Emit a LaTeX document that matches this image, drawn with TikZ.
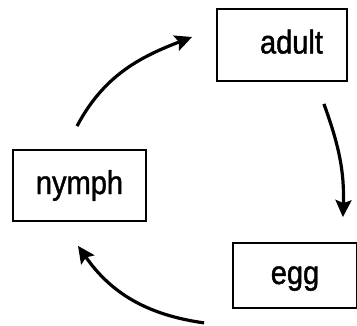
\documentclass[tikz,border=0pt]{standalone}
\usepackage{fontspec}
\setmainfont{Liberation Sans}[FakeStretch=0.88, FakeBold=1.2]
\usetikzlibrary{arrows.meta}

\begin{document}
\begin{tikzpicture}[x = 1pt, y = 1pt,
    stage/.style = {draw, line width = 1.8pt, inner sep = 0pt,
      font = \fontsize{33}{36}\selectfont,
      text height = 24pt, text depth = 7pt},
    cycarrow/.style = {line width = 3.2pt,
      -{Stealth[length = 17pt, width = 16pt, inset = 3pt]}}]
    \useasboundingbox (0,0) rectangle (357,325);
    % the three stages
    \node [stage, minimum width = 130pt, minimum height = 72pt]
    (adult) at (282,280) {\hspace{19pt}adult};
    \node [stage, minimum width = 133pt, minimum height = 71pt]
    (nymph) at (79.5,139.5) {nymph};
    \node [stage, minimum width = 124pt, minimum height = 65pt]
    (egg) at (295,49.5) {egg};
    % the cycle
    \draw [cycarrow] ([shift = {(-2.5pt,23pt)}]nymph.north)
    to [out = 62, in = 201] ([shift = {(-24pt,8pt)}]adult.west);
    \draw [cycarrow] ([shift = {(-24pt,-22pt)}]adult.south east)
    to [out = -70, in = 88] ([shift = {(-15pt,25pt)}]egg.north east);
    \draw [cycarrow] ([shift = {(-28pt,-14pt)}]egg.south west)
    to [out = 172, in = -55] ([shift = {(-1.5pt,-24pt)}]nymph.south);
\end{tikzpicture}
\end{document}
